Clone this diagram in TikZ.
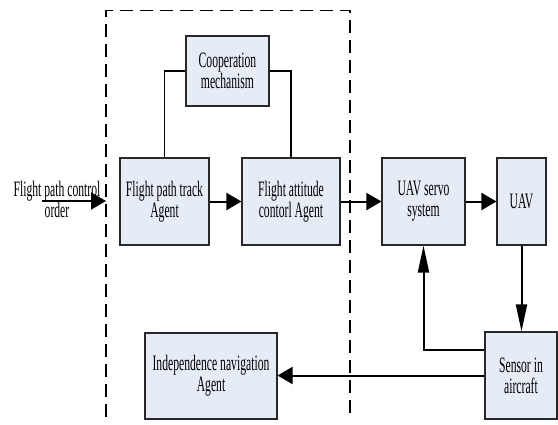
\documentclass[tikz,border=0pt]{standalone}
\usepackage{fontspec}
\newfontfamily\lbl[FakeStretch=0.53]{Liberation Serif}
\usetikzlibrary{arrows.meta}
\definecolor{boxfill}{RGB}{230,236,246}
\definecolor{boxline}{RGB}{40,40,40}

\begin{document}
\begin{tikzpicture}[x=1pt,y=-1pt,
  txt/.style={font=\lbl\fontsize{22}{21}\selectfont, align=center, inner sep=0pt, text=black},
  box/.style={txt, draw=boxline, line width=1.1pt, fill=boxfill},
  link/.style={line width=1.5pt, draw=black},
  harrow/.style={line width=2pt, draw=black, -{Triangle[length=15pt,width=17pt]}},
  varrow/.style={line width=2pt, draw=black, -{Triangle[length=27pt,width=11pt]}},
  frame/.style={line width=1.5pt, draw=black, dash pattern=on 13pt off 7pt}
]
\useasboundingbox (0,0) rectangle (558,424);

% agent group frame (open at the bottom)
\draw[frame] (106,417) -- (106,10.7) -- (350,10.7) -- (350,417);

% blocks
\node[box, minimum width=83pt, minimum height=70pt] (coop) at (227.5,71) {Cooperation\\mechanism};
\node[box, minimum width=89pt, minimum height=87pt] (track) at (164.5,201.5) {Flight path track\\Agent};
\node[box, minimum width=98pt, minimum height=87pt] (att) at (291,201.5) {Flight attitude\\contorl Agent};
\node[box, minimum width=83pt, minimum height=87pt] (servo) at (423.5,201.5) {UAV servo\\system};
\node[box, minimum width=49pt, minimum height=87pt] (uav) at (521.5,201.5) {UAV};
\node[box, minimum width=132pt, minimum height=86pt] (indep) at (211,376) {Independence navigation\\Agent};
\node[box, minimum width=72pt, minimum height=87pt] (sensor) at (521,375.5) {Sensor in\\aircraft};

% input command
\node[txt] (order) at (57,199) {Flight path control\\order};
\coordinate (inStart) at (42,201);
\coordinate (inEnd) at (106,201);
\draw[harrow] (inStart) -- (inEnd);

% connections
\draw[link] (coop.west) -| (track.north);
\draw[link] (coop.east) -| (att.north);
\draw[harrow] (track.east) -- (att.west);
\draw[harrow] (att.east) -- (servo.west);
\draw[harrow] (servo.east) -- (uav.west);
\draw[varrow] (uav.south) -- (uav.south |- sensor.north);
\draw[varrow] ([yshift=25.5pt]sensor.west) -| (servo.south);
\draw[harrow] (sensor.west) -- (sensor.west -| indep.east);
\end{tikzpicture}
\end{document}
